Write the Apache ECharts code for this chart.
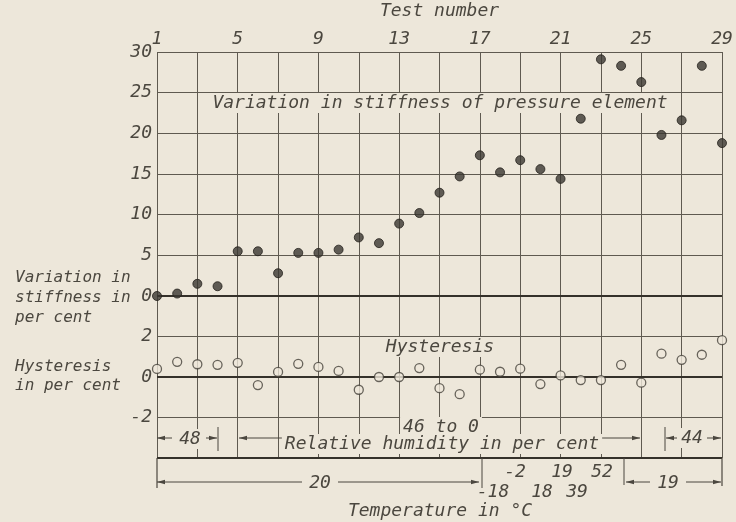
<!DOCTYPE html>
<html>
<head>
<meta charset="utf-8">
<script src="https://cdn.jsdelivr.net/npm/echarts@6/dist/echarts.min.js"></script>
<style>
html,body{margin:0;padding:0;background:#ede7da;}
#c{width:736px;height:522px;}
</style>
</head>
<body>
<div id="c"></div>
<script>
// ---- data ----
const testNumbers = ['1','2','3','4','5','6','7','8','9','10','11','12','13','14','15','16','17','18','19','20','21','22','23','24','25','26','27','28','29'];
const stiffness = [0.0,0.3,1.5,1.2,5.5,5.5,2.8,5.3,5.3,5.7,7.2,6.5,8.9,10.2,12.7,14.7,17.3,15.2,16.7,15.6,14.4,21.8,29.1,28.3,26.3,19.8,21.6,28.3,18.8];
const hysteresis = [0.4,0.75,0.63,0.6,0.7,-0.4,0.25,0.65,0.5,0.3,-0.63,0.0,0.0,0.44,-0.55,-0.85,0.36,0.26,0.41,-0.35,0.08,-0.15,-0.15,0.6,-0.28,1.15,0.85,1.1,1.82];
const stiffnessTicks = [0,5,10,15,20,25,30];
const hysteresisTicks = [-2,0,2];

// ---- style ----
const BG = '#ede7da';
const INK = '#4b473f';
const GRID = '#5f5a50';
const FAM = '"DejaVu Sans Mono"';
const FONT = 'italic 18px ' + FAM;
const FONT_SIDE = 'italic 16px ' + FAM;

const chart = echarts.init(document.getElementById('c'), null, {renderer:'canvas'});

const gl = {show:true, interval:1, lineStyle:{color:GRID, width:1}};
const labelStyle = {color:INK, fontFamily:FAM, fontStyle:'italic', fontSize:18};

function txt(text, x, y, opts) {
  opts = opts || {};
  return {type:'text', z:20, style:Object.assign({
    text:text, x:x, y:y, font:opts.font||FONT, fill:INK,
    textAlign:opts.align||'center', textVerticalAlign:'middle'
  }, opts.bg ? {backgroundColor:BG, padding:[1,3]} : {})};
}
function ln(x1,y1,x2,y2,w) {
  return {type:'line', z:15, shape:{x1:x1,y1:y1,x2:x2,y2:y2}, style:{stroke:INK, lineWidth:w||1}};
}
function head(x,y,dir) {
  // dir = -1 points left, 1 points right
  return {type:'polygon', z:16, shape:{points:[[x,y],[x-dir*8,y-2.2],[x-dir*8,y+2.2]]}, style:{fill:INK}};
}

const graphics = [
  // left side titles
  txt('Variation in', 15, 278, {align:'left', font:FONT_SIDE}),
  txt('stiffness in', 15, 298, {align:'left', font:FONT_SIDE}),
  txt('per cent', 15, 318, {align:'left', font:FONT_SIDE}),
  txt('Hysteresis', 15, 367, {align:'left', font:FONT_SIDE}),
  txt('in per cent', 15, 386, {align:'left', font:FONT_SIDE}),
  // in-plot titles
  txt('Variation in stiffness of pressure element', 440, 103, {bg:true}),
  txt('Hysteresis', 440, 347, {bg:true}),
  // humidity row
  ln(157,438,172,438), head(157,438,-1),
  txt('48', 190, 439, {bg:true}),
  ln(206,438,217,438), head(217,438,1), ln(218,427,218,451),
  ln(239,438,290,438), head(239,438,-1),
  txt('46 to 0', 441, 427, {bg:true}),
  txt('Relative humidity in per cent', 442, 444, {bg:true}),
  ln(595,438,640,438), head(640,438,1),
  ln(665,427,665,451), ln(666,438,677,438), head(666,438,-1),
  txt('44', 692, 438, {bg:true}),
  ln(707,438,721,438), head(721,438,1),
  // temperature row
  ln(157,458,157,488,1.2), ln(722,458,722,486,1.2),
  ln(157,482,302,482), head(157,482,-1),
  txt('20', 320, 483),
  ln(338,482,479,482), head(479,482,1),
  ln(482,458,482,488),
  txt('-2', 515, 472), txt('19', 562, 472), txt('52', 602, 472),
  txt('-18', 493, 492), txt('18', 542, 492), txt('39', 577, 492),
  ln(624,458,624,485),
  ln(626,482,650,482), head(626,482,-1),
  txt('19', 668, 483),
  ln(686,482,721,482), head(721,482,1),
  // axis title bottom
  txt('Temperature in °C', 440, 511)
];

const option = {
  backgroundColor: BG,
  animation: false,
  grid: [
    {left:157, top:52, width:565, height:244},
    {left:157, top:296, width:565, height:162}
  ],
  xAxis: [
    {gridIndex:0, type:'category', data:testNumbers, boundaryGap:false, position:'top',
     axisLine:{show:false}, axisTick:{show:false},
     axisLabel:Object.assign({interval:3, margin:4}, labelStyle),
     splitLine:gl,
     name:'Test number', nameLocation:'middle', nameGap:32,
     nameTextStyle:labelStyle},
    {gridIndex:1, type:'category', data:testNumbers, boundaryGap:false,
     axisLine:{show:false}, axisTick:{show:false}, axisLabel:{show:false},
     splitLine:gl}
  ],
  yAxis: [
    {gridIndex:0, type:'value', min:0, max:30, interval:5,
     axisLine:{show:false}, axisTick:{show:false},
     axisLabel:Object.assign({margin:5, formatter:v => stiffnessTicks.includes(v) ? String(v) : ''}, labelStyle),
     splitLine:{show:true, lineStyle:{color:GRID, width:1}}},
    {gridIndex:1, type:'value', min:-4, max:4, interval:2,
     axisLine:{show:false}, axisTick:{show:false},
     axisLabel:Object.assign({margin:5, formatter:v => hysteresisTicks.includes(v) ? String(v) : ''}, labelStyle),
     splitLine:{show:true, lineStyle:{color:GRID, width:1}}}
  ],
  series: [
    {type:'line', xAxisIndex:0, yAxisIndex:0, data:[], z:1, silent:true,
     markLine:{silent:true, symbol:'none', label:{show:false},
       lineStyle:{type:'solid', color:'#35312a', width:2}, data:[{yAxis:0}]}},
    {type:'line', xAxisIndex:1, yAxisIndex:1, data:[], z:1, silent:true,
     markLine:{silent:true, symbol:'none', label:{show:false},
       lineStyle:{type:'solid', color:'#35312a', width:2}, data:[{yAxis:0},{yAxis:-4}]}},
    {type:'scatter', name:'Stiffness', xAxisIndex:0, yAxisIndex:0, data:stiffness, z:5,
     symbol:'circle', symbolSize:9,
     itemStyle:{color:'#3a3731', borderColor:'#24211c', borderWidth:1}},
    {type:'scatter', name:'Hysteresis', xAxisIndex:1, yAxisIndex:1, data:hysteresis, z:5,
     symbol:'circle', symbolSize:9,
     itemStyle:{color:BG, borderColor:'#45413a', borderWidth:1.3}}
  ],
  graphic: graphics
};
chart.setOption(option);
</script>
</body>
</html>
